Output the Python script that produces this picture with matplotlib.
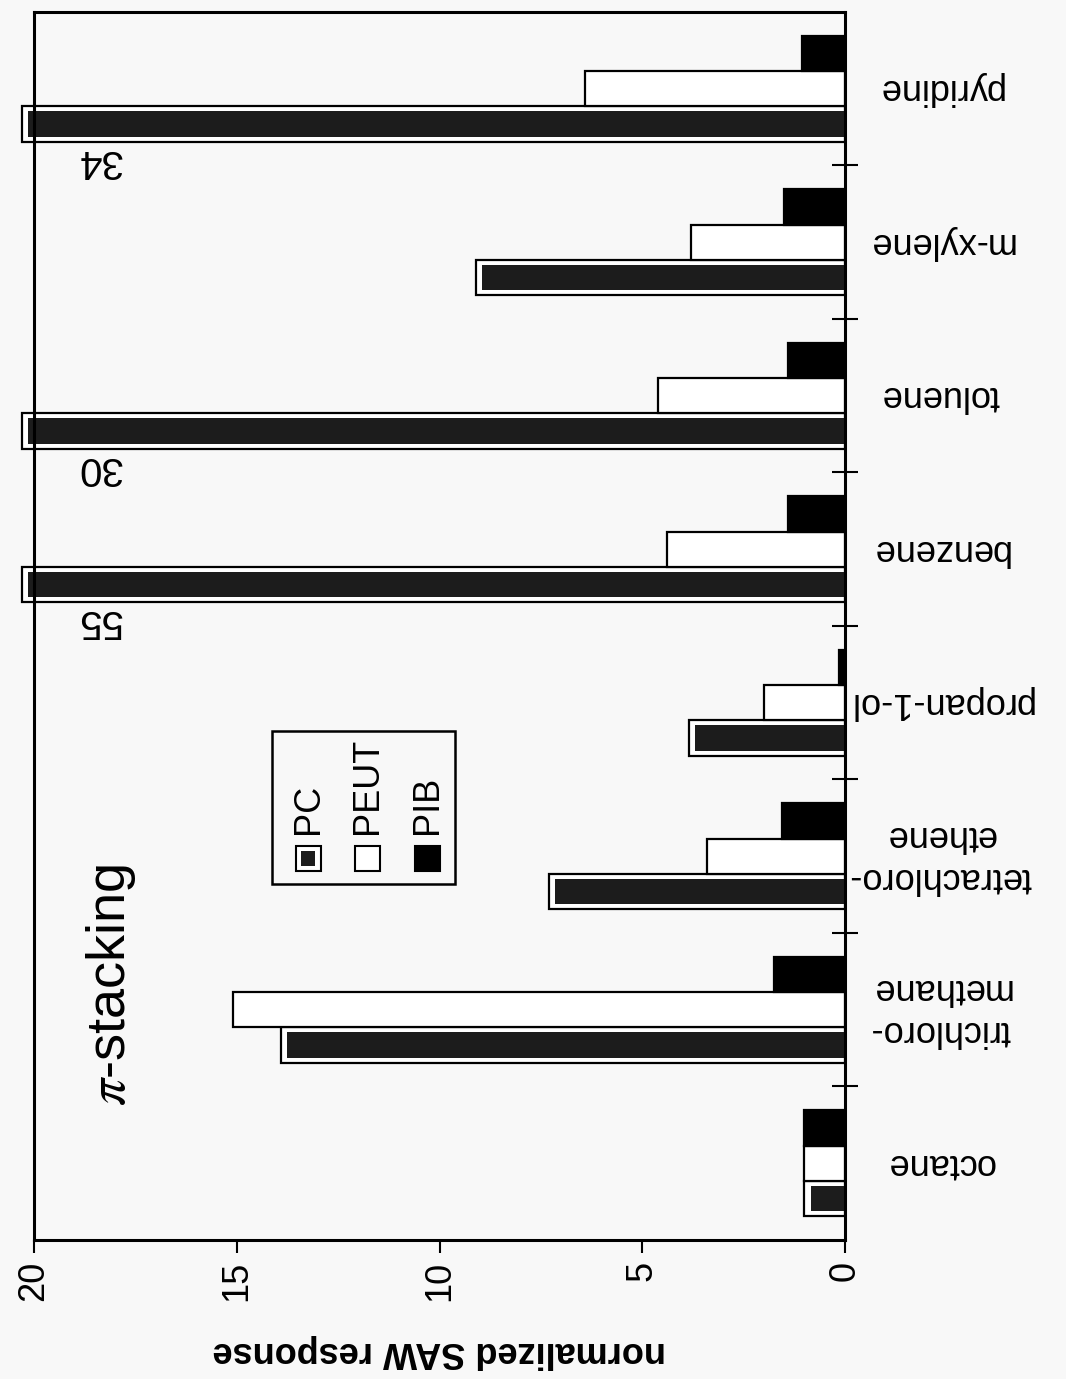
import matplotlib
matplotlib.use("Agg")
import matplotlib.pyplot as plt
import matplotlib.transforms as mtransforms
from matplotlib.patches import Rectangle
import numpy as np

plt.rcParams['font.family'] = ['Liberation Sans', 'DejaVu Sans']
plt.rcParams['mathtext.fontset'] = 'stix'

# Data (bottom to top)
solvents = ['octane', 'trichloro-\nmethane', 'tetrachloro-\nethene', 'propan-1-ol',
            'benzene', 'toluene', 'm-xylene', 'pyridine']
pc = [1.0, 13.9, 7.3, 3.85, 55, 30, 9.1, 34]
peut = [1.0, 15.1, 3.4, 2.0, 4.4, 4.6, 3.8, 6.4]
pib = [1.0, 1.75, 1.55, 0.15, 1.4, 1.4, 1.5, 1.05]
x_ticks = [0, 5, 10, 15, 20]

bg = '#f8f8f8'
dark = '#1c1c1c'

fig = plt.figure(figsize=(10.66, 13.79), dpi=100, facecolor=bg)
ax = fig.add_axes([0.0319, 0.1008, 0.7608, 0.8905], facecolor=bg)

y = np.arange(len(solvents))
h = 0.23
pc_shown = np.minimum(pc, 20.3)

# PC bars: black outline, white gap, dark fill
ax.barh(y - h, pc_shown, height=h, color='white', edgecolor='black', linewidth=1.6, clip_on=False)
ax.barh(y - h, pc_shown - 0.15, height=h * 0.72, color=dark, linewidth=0, clip_on=False)
ax.barh(y, peut, height=h, color='white', edgecolor='black', linewidth=1.6)
ax.barh(y + h, pib, height=h, color='black', edgecolor='black', linewidth=1.6)

ax.set_xlim(20, 0)
ax.set_ylim(-0.5, len(solvents) - 0.5)
ax.set_xticks(x_ticks)
ax.set_xticklabels([str(t) for t in x_ticks])
ax.tick_params(axis='x', direction='out', length=9, width=1.5, labelsize=26,
               pad=6, labelrotation=90)
ax.set_yticks(np.arange(0.5, len(solvents) - 0.5, 1))
ax.tick_params(axis='y', left=False, right=True, direction='inout', length=19,
               width=1.5, labelleft=False, labelright=False)
for s in ax.spines.values():
    s.set_linewidth(2.2)

ax.set_xlabel('normalized SAW response', rotation=180, fontsize=26,
              fontweight='bold', labelpad=24)

# category labels on the right, upside down
trans = mtransforms.blended_transform_factory(ax.transAxes, ax.transData)
for i, name in enumerate(solvents):
    ax.text(1.117, i, name, transform=trans, rotation=180, ha='center',
            va='center', fontsize=26, linespacing=1.25, multialignment='center')

# values of off-scale bars
for i, v in enumerate(pc):
    if v > 20:
        ax.text(18.4, i - 0.47, f'{v:g}', rotation=180, ha='center',
                va='center', fontsize=29)

ax.text(18.1, 1.16, r'$\pi$-stacking', rotation=90, ha='center', va='center',
        fontsize=39)

# legend, drawn by hand because it is rotated
ax.add_patch(Rectangle((0.2935, 0.290), 0.2256, 0.1245, transform=ax.transAxes,
                       facecolor='none', edgecolor='black', linewidth=1.8))
lx = [0.3225, 0.396, 0.470]
names = ['PC', 'PEUT', 'PIB']
faces = ['white', 'white', 'black']
for x0, name, fc in zip(lx, names, faces):
    ax.add_patch(Rectangle((x0, 0.3005), 0.031, 0.0205, transform=ax.transAxes,
                           facecolor=fc, edgecolor='black', linewidth=1.5))
    ax.text(x0 + 0.0155, 0.331, name, transform=ax.transAxes, rotation=90,
            ha='center', va='bottom', fontsize=26)
ax.add_patch(Rectangle((lx[0] + 0.007, 0.3045), 0.017, 0.0125, transform=ax.transAxes,
                       facecolor=dark, linewidth=0))

fig.savefig('out.png', dpi=100, facecolor=bg)
